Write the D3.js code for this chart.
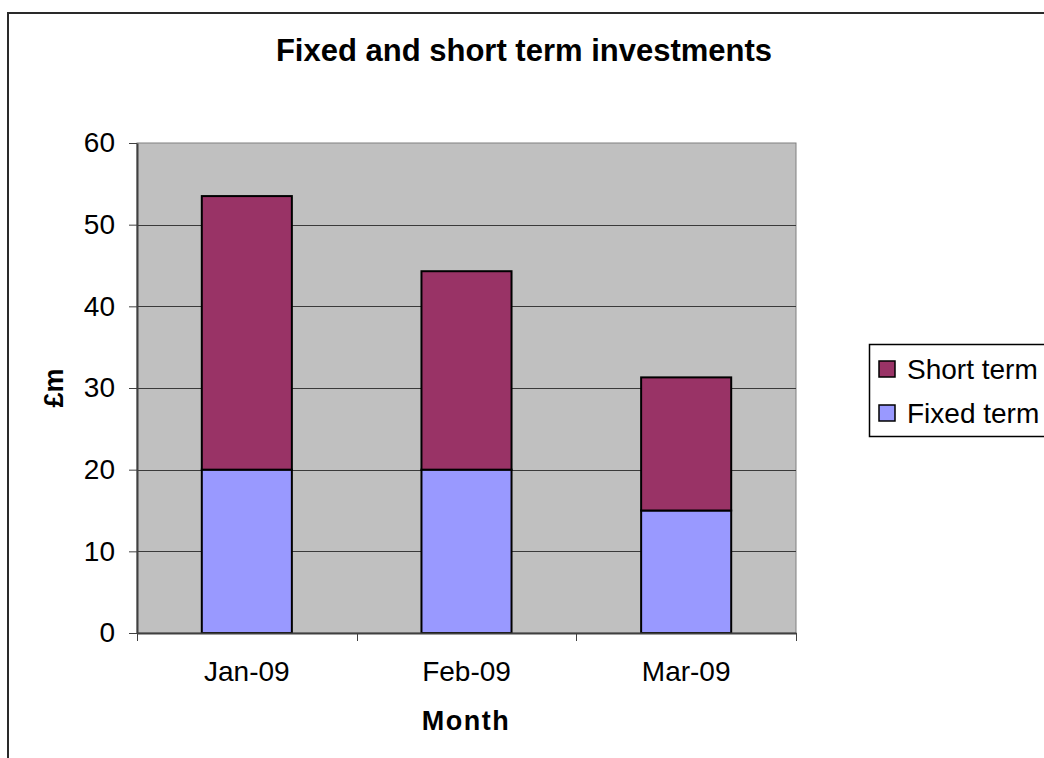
<!DOCTYPE html>
<html>
<head>
<meta charset="utf-8">
<script src="https://cdn.jsdelivr.net/npm/d3@7"></script>
<style>
  body { margin: 0; background: #fff; }
  text { font-family: Arial, "Liberation Sans", sans-serif; fill: #000; }
</style>
</head>
<body>
<div id="chart"></div>
<script>
// Chart data
const months = ["Jan-09", "Feb-09", "Mar-09"];
const fixedTerm = [20, 20, 15];
const shortTerm = [33.5, 24.3, 16.3];
const seriesNames = ["Fixed term", "Short term"];
const seriesColors = ["#9999FF", "#993366"];
const yTicks = [0, 10, 20, 30, 40, 50, 60];

const W = 1044, H = 758;
const plot = { left: 137, top: 143, right: 796, bottom: 633 };

const svg = d3.select("#chart")
    .append("svg")
    .attr("width", W)
    .attr("height", H);

// outer chart border (runs off the right and bottom edges)
svg.append("rect")
    .attr("x", 8).attr("y", 13)
    .attr("width", 1200).attr("height", 900)
    .attr("fill", "#fff")
    .attr("stroke", "#2a2a2a")
    .attr("stroke-width", 2);

const x = d3.scaleBand()
    .domain(months)
    .range([plot.left, plot.right])
    .paddingInner(0.59)
    .paddingOuter(0.295);

const y = d3.scaleLinear()
    .domain([0, 60])
    .range([plot.bottom, plot.top]);

// plot area
svg.append("rect")
    .attr("x", plot.left).attr("y", plot.top)
    .attr("width", plot.right - plot.left)
    .attr("height", plot.bottom - plot.top)
    .attr("fill", "#C0C0C0")
    .attr("stroke", "#808080")
    .attr("stroke-width", 1);

// gridlines
svg.selectAll("line.grid")
    .data(yTicks.filter(d => d > 0 && d < 60))
    .enter().append("line")
    .attr("class", "grid")
    .attr("x1", plot.left).attr("x2", plot.right)
    .attr("y1", d => Math.round(y(d)) + 0.5)
    .attr("y2", d => Math.round(y(d)) + 0.5)
    .attr("stroke", "#3a3a3a")
    .attr("stroke-width", 1);

// stacked bars
const stackData = months.map((m, i) => ({ month: m, "Fixed term": fixedTerm[i], "Short term": shortTerm[i] }));
const stacked = d3.stack().keys(seriesNames)(stackData);

svg.selectAll("g.series")
    .data(stacked)
    .enter().append("g")
    .attr("class", "series")
    .attr("fill", (d, i) => seriesColors[i])
    .selectAll("rect")
    .data(d => d)
    .enter().append("rect")
    .attr("x", d => x(d.data.month))
    .attr("y", d => y(d[1]))
    .attr("width", x.bandwidth())
    .attr("height", d => y(d[0]) - y(d[1]))
    .attr("stroke", "#000")
    .attr("stroke-width", 2);

// y axis
const yAxis = svg.append("g")
    .attr("transform", `translate(${plot.left},0)`)
    .call(d3.axisLeft(y).tickValues(yTicks).tickSize(8).tickPadding(14).tickSizeOuter(0));
yAxis.select(".domain").attr("stroke", "#404040").attr("stroke-width", 2);
yAxis.selectAll(".tick line").attr("stroke", "#404040");
yAxis.selectAll(".tick text")
    .style("font-size", "28px")
    .style("font-family", "Arial, 'Liberation Sans', sans-serif")
    .attr("fill", "#000");

// x axis
const xAxis = svg.append("g")
    .attr("transform", `translate(0,${plot.bottom})`)
    .call(d3.axisBottom(x).tickSize(0).tickPadding(28).tickSizeOuter(0));
xAxis.select(".domain").attr("stroke", "#404040").attr("stroke-width", 2);
xAxis.selectAll(".tick text")
    .style("font-size", "28px")
    .style("font-family", "Arial, 'Liberation Sans', sans-serif")
    .attr("fill", "#000");

// tick marks at category boundaries
const boundaries = d3.range(months.length + 1).map(i => plot.left + i * x.step());
svg.selectAll("line.xtick")
    .data(boundaries)
    .enter().append("line")
    .attr("class", "xtick")
    .attr("x1", d => Math.round(d) + 0.5).attr("x2", d => Math.round(d) + 0.5)
    .attr("y1", plot.bottom).attr("y2", plot.bottom + 8)
    .attr("stroke", "#404040");

// title
svg.append("text")
    .attr("x", 524).attr("y", 61)
    .attr("text-anchor", "middle")
    .style("font-size", "31px")
    .style("font-weight", "bold")
    .text("Fixed and short term investments");

// axis titles
svg.append("text")
    .attr("x", 466).attr("y", 730)
    .attr("text-anchor", "middle")
    .style("font-size", "27px")
    .style("font-weight", "bold")
    .style("letter-spacing", "1.5px")
    .text("Month");

svg.append("text")
    .attr("transform", "translate(63,388) rotate(-90)")
    .attr("text-anchor", "middle")
    .style("font-size", "27px")
    .style("font-weight", "bold")
    .text("£m");

// legend (short term listed first, like the stack order top-down)
const legend = svg.append("g");
legend.append("rect")
    .attr("x", 869.5).attr("y", 344.5)
    .attr("width", 300).attr("height", 92)
    .attr("fill", "#fff")
    .attr("stroke", "#000")
    .attr("stroke-width", 1.5);

const legendItems = seriesNames.map((name, i) => ({ name, color: seriesColors[i] })).reverse();
const rows = legend.selectAll("g.item")
    .data(legendItems)
    .enter().append("g")
    .attr("class", "item")
    .attr("transform", (d, i) => `translate(879,${369 + i * 44})`);

rows.append("rect")
    .attr("x", 0).attr("y", -8)
    .attr("width", 16).attr("height", 16)
    .attr("fill", d => d.color)
    .attr("stroke", "#000")
    .attr("stroke-width", 1.5);

rows.append("text")
    .attr("x", 28).attr("y", 0)
    .attr("dy", "0.35em")
    .style("font-size", "28px")
    .text(d => d.name);
</script>
</body>
</html>
